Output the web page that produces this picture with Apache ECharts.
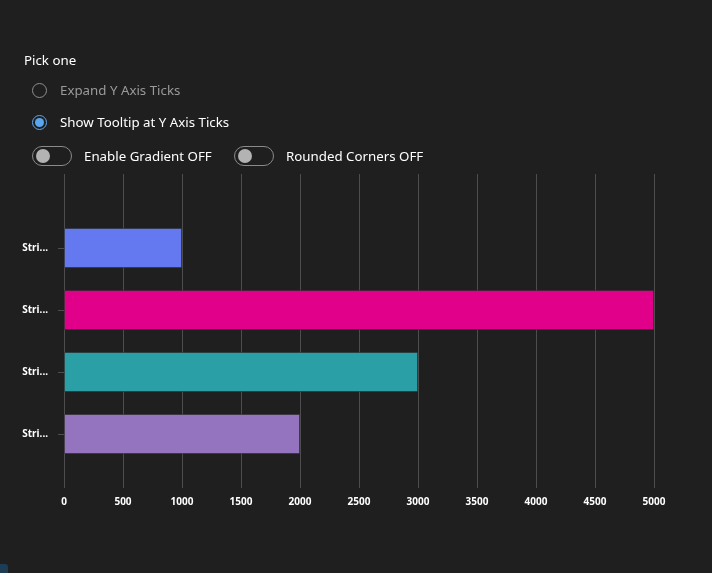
<!DOCTYPE html>
<html>
<head>
<meta charset="utf-8">
<script src="https://cdn.jsdelivr.net/npm/echarts@6/dist/echarts.min.js"></script>
<style>
  html, body {
    margin: 0;
    padding: 0;
    background: #1f1f1f;
    width: 712px;
    height: 573px;
    overflow: hidden;
    font-family: "Noto Sans", sans-serif;
  }
  #chart {
    position: absolute;
    left: 0;
    top: 0;
    width: 712px;
    height: 573px;
  }
  .controls {
    position: absolute;
    left: 0;
    top: 0;
    color: #ffffff;
    font-size: 13.3px;
    z-index: 2;
  }
  .title {
    position: absolute;
    left: 24px;
    top: 51px;
    white-space: nowrap;
  }
  .radio {
    position: absolute;
    left: 32px;
    white-space: nowrap;
    display: flex;
    align-items: center;
  }
  .radio .dot {
    width: 13px;
    height: 13px;
    border: 1.5px solid #8f8f8f;
    border-radius: 50%;
    box-sizing: content-box;
    margin-right: 13px;
    position: relative;
  }
  .radio.on .dot {
    border-color: #5aa7f0;
  }
  .radio.on .dot::after {
    content: "";
    position: absolute;
    left: 2px;
    top: 2px;
    width: 9px;
    height: 9px;
    border-radius: 50%;
    background: #5aa7f0;
  }
  .radio.off span {
    color: #9a9a9a;
  }
  .toggle {
    position: absolute;
    top: 146px;
    display: flex;
    align-items: center;
    white-space: nowrap;
  }
  .toggle .track {
    width: 38px;
    height: 18px;
    border: 1px solid #8a8a8a;
    border-radius: 10px;
    position: relative;
    margin-right: 12px;
  }
  .toggle .track::after {
    content: "";
    position: absolute;
    left: 3px;
    top: 2px;
    width: 14px;
    height: 14px;
    border-radius: 50%;
    background: #b3b3b3;
  }
  .corner {
    position: absolute;
    left: -4px;
    top: 564px;
    width: 12px;
    height: 14px;
    border-radius: 3px;
    background: #1c3d55;
  }
</style>
</head>
<body>
<div id="chart"></div>
<div class="controls">
  <div class="title">Pick one</div>
  <div class="radio off" style="top:81px"><div class="dot"></div><span>Expand Y Axis Ticks</span></div>
  <div class="radio on" style="top:113px"><div class="dot"></div><span>Show Tooltip at Y Axis Ticks</span></div>
  <div class="toggle" style="left:32px"><div class="track"></div><span>Enable Gradient OFF</span></div>
  <div class="toggle" style="left:234px"><div class="track"></div><span>Rounded Corners OFF</span></div>
</div>
<div class="corner"></div>
<script>
// data
var categories = ["String 1", "String 2", "String 3", "String 4"];
var values = [1000, 5000, 3000, 2000];
var barColors = ["#6479f0", "#e0008a", "#2aa0a6", "#9474be"];
var xMin = 0;
var xMax = 5000;
var xStep = 500;

var myChart = echarts.init(document.getElementById("chart"));

var option = {
  backgroundColor: "transparent",
  animation: false,
  textStyle: {
    fontFamily: "Noto Sans",
  },
  grid: [
    // bars
    { left: 64, right: 58, top: 217, bottom: 108 },
    // axis frame with split lines
    { left: 64, right: 58, top: 174, bottom: 90 },
  ],
  xAxis: [
    {
      gridIndex: 0,
      type: "value",
      min: xMin,
      max: xMax,
      interval: xStep,
      show: false,
    },
    {
      gridIndex: 1,
      type: "value",
      min: xMin,
      max: xMax,
      interval: xStep,
      axisLine: { show: false },
      axisTick: {
        show: true,
        length: 5,
        lineStyle: { color: "#4d4d4d" },
      },
      axisLabel: {
        color: "#ffffff",
        fontSize: 10,
        fontWeight: "bold",
        margin: 14,
        formatter: function (v) {
          return String(v);
        },
      },
      splitLine: {
        show: true,
        lineStyle: { color: "#4d4d4d", width: 1 },
      },
    },
  ],
  yAxis: [
    {
      gridIndex: 0,
      type: "category",
      inverse: true,
      data: categories,
      axisLine: { show: false },
      axisTick: {
        show: true,
        alignWithLabel: true,
        length: 6,
        lineStyle: { color: "#4d4d4d" },
      },
      axisLabel: {
        color: "#ffffff",
        fontSize: 10,
        fontWeight: "bold",
        margin: 16,
        width: 29,
        overflow: "truncate",
        ellipsis: "...",
      },
    },
    {
      gridIndex: 1,
      type: "category",
      data: [],
      show: false,
    },
  ],
  series: [
    {
      type: "bar",
      xAxisIndex: 0,
      yAxisIndex: 0,
      barWidth: 40,
      data: values.map(function (v, i) {
        return {
          value: v,
          itemStyle: {
            color: barColors[i],
            borderColor: "rgba(40,40,40,0.55)",
            borderWidth: 1,
          },
        };
      }),
    },
  ],
};

myChart.setOption(option);
</script>
</body>
</html>
